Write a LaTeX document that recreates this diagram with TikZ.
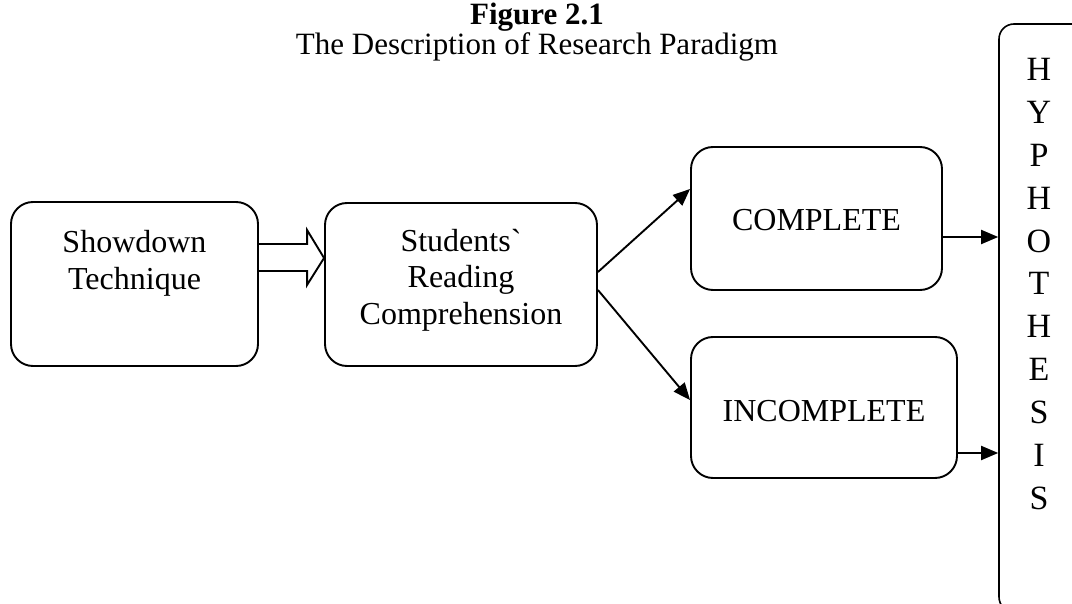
\documentclass[tikz,border=0pt]{standalone}
\usepackage{fontspec}
\setmainfont{Liberation Serif}
\usetikzlibrary{arrows.meta,calc}
\begin{document}
\begin{tikzpicture}[x=1pt,y=-1pt,
  box/.style={draw, line width=1.9pt, rounded corners=22pt, inner sep=0pt},
  txt/.style={font=\fontsize{32}{37}\selectfont, align=center, inner sep=0pt},
  conn/.style={line width=1.9pt, -{Triangle[length=17pt,width=14pt]}},
  hollow/.style={draw, line width=1.9pt, line join=miter},
]
\useasboundingbox (0,0) rectangle (1072,604);
\clip (0,0) rectangle (1072,604);
% title
\node[anchor=base, inner sep=0pt, font=\fontsize{31}{36}\selectfont\bfseries] (fig) at (537,25) {Figure 2.1};
\node[anchor=base, inner sep=0pt, font=\fontsize{31}{36}\selectfont] (sub) at (537,55) {The Description of Research Paradigm};
% boxes
\node[box, minimum width=247pt, minimum height=164pt] (sd) at (134.5,284) {};
\node[txt, anchor=north] (sdt) at (134.5,230) {Showdown\\Technique};
\node[box, minimum width=272pt, minimum height=163pt] (st) at (461,284.5) {};
\node[txt, anchor=north, font=\fontsize{32}{36.5}\selectfont] (stt) at (461,229) {Students\textasciigrave\\Reading\\Comprehension};
\node[box, minimum width=251pt, minimum height=143pt] (comp) at (816.5,218.5) {};
\node[txt, anchor=base] (compt) at (816.5,231) {COMPLETE};
\node[box, minimum width=266pt, minimum height=141pt] (inc) at (824,407.5) {};
\node[txt, anchor=base] (inct) at (824,421) {INCOMPLETE};
\node[draw, line width=1.6pt, rounded corners=15pt, minimum width=100pt, minimum height=588pt, inner sep=0pt] (hyp) at (1049,318) {};
\node[anchor=north, inner sep=0pt, align=center, font=\fontsize{34}{42.9}\selectfont] (hypt) at (1039,58) {H\\Y\\P\\H\\O\\T\\H\\E\\S\\I\\S};
% hollow arrow
\coordinate (tip) at ($(st.west)+(0,-26.5)$);
\draw[hollow] ($(sd.east)+(0,-40)$) -- ($(tip)+(-17,-14)$) -- ($(tip)+(-17,-28)$) -- (tip) -- ($(tip)+(-17,27)$) -- ($(tip)+(-17,13)$) -- ($(sd.east)+(0,-13)$);
% connectors
\draw[conn] ($(st.east)+(0,-12.5)$) -- ($(comp.west)+(0,-29.5)$);
\draw[conn] ($(st.east)+(0,5.5)$) -- ($(inc.west)+(0,-7.5)$);
\coordinate (c1) at ($(comp.east)+(0,18.5)$);
\coordinate (c2) at ($(inc.east)+(0,45.5)$);
\draw[conn] (c1) -- (c1 -| hyp.west);
\draw[conn] (c2) -- (c2 -| hyp.west);
\end{tikzpicture}
\end{document}
